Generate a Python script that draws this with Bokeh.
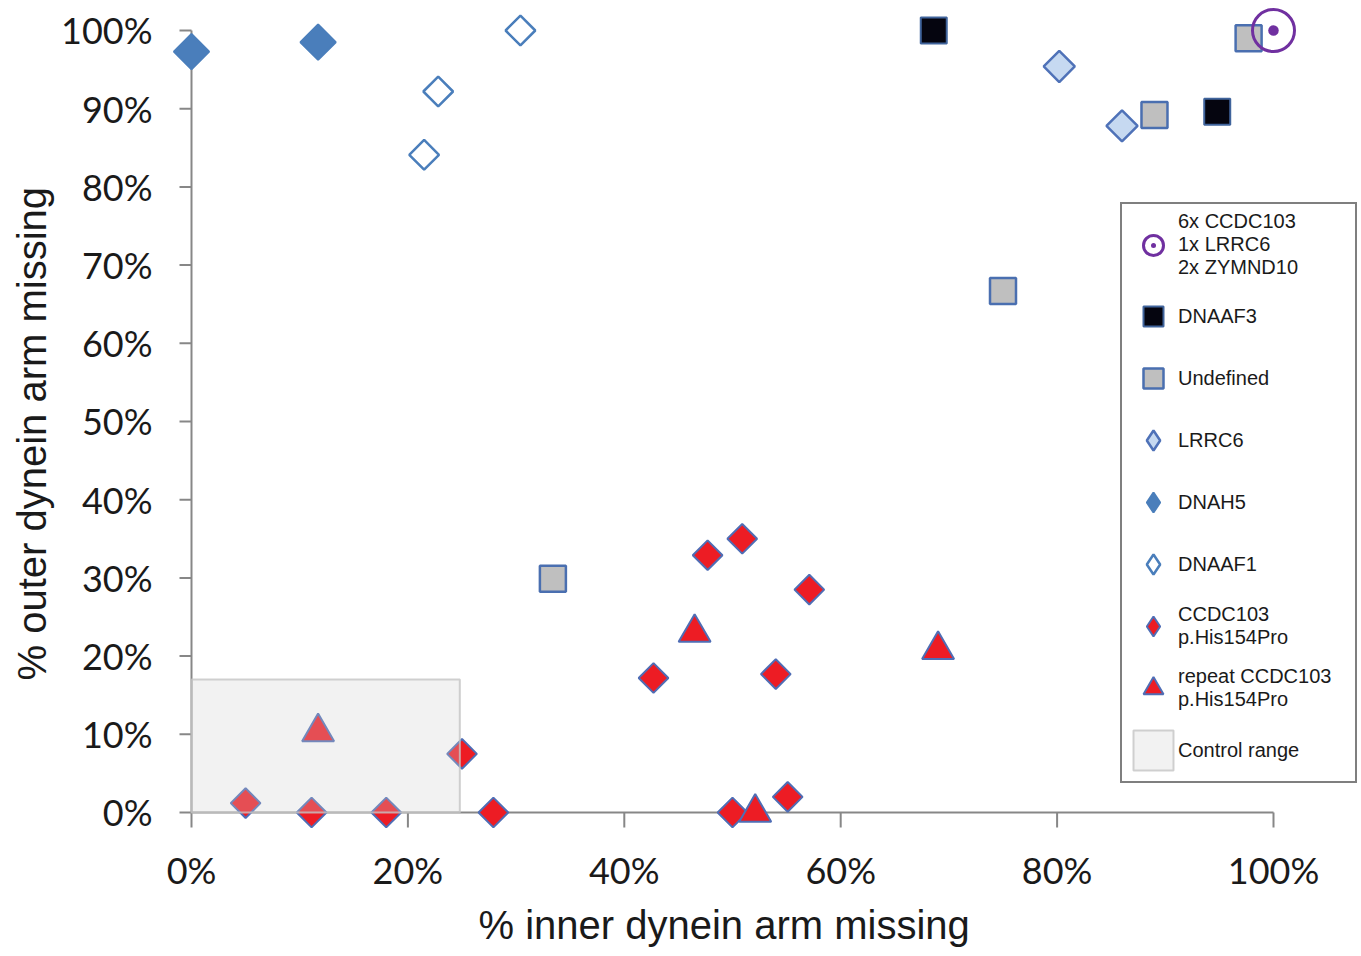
import numpy as np
from bokeh.plotting import figure
from bokeh.models import (Range1d, Legend, LegendItem, FixedTicker,
                          PrintfTickFormatter, Title)
from bokeh.embed import file_html
from bokeh.resources import INLINE

# ---------------- data ----------------
multi_x = [100.0]
multi_y = [100.0]

dnaaf3_x = [68.6, 94.8]
dnaaf3_y = [100.0, 89.6]

undef_x = [97.7, 89.0, 75.0, 33.4]
undef_y = [99.0, 89.2, 66.7, 29.9]

lrrc6_x = [80.2, 86.0]
lrrc6_y = [95.4, 87.8]

dnah5_x = [0.0, 11.7]
dnah5_y = [97.3, 98.5]

dnaaf1_x = [30.4, 22.8, 21.5]
dnaaf1_y = [100.0, 92.2, 84.1]

ccdc_x = [5.0, 11.1, 18.0, 25.0, 27.9, 42.7, 47.7, 50.9, 57.1, 54.0, 50.0, 55.1]
ccdc_y = [1.2, 0.0, 0.0, 7.5, 0.0, 17.2, 32.9, 35.0, 28.5, 17.7, 0.0, 2.0]

repeat_x = [11.7, 46.5, 69.0, 52.1]
repeat_y = [10.3, 23.0, 20.8, 0.0]

control_x = [0.0, 24.8]
control_y = [0.0, 17.0]

x_ticks = [0, 20, 40, 60, 80, 100]
y_ticks = [0, 10, 20, 30, 40, 50, 60, 70, 80, 90, 100]

x_title = "% inner dynein arm missing"
y_title = "% outer dynein arm missing"

# ---------------- figure ----------------
W, H = 1358, 954
p = figure(width=W, height=H, output_backend="svg", toolbar_location=None,
           x_range=Range1d(-1.756, 107.856), y_range=Range1d(-2.558, 103.836),
           min_border_left=172, min_border_right=0, min_border_top=0,
           min_border_bottom=122)
p.outline_line_color = None
p.grid.visible = False
p.background_fill_color = "white"

axis_col = "#878787"
text_col = "#1a1a1a"

# axes: tick labels (lines / ticks are drawn at the zero lines below)
for ax in (p.xaxis[0], p.yaxis[0]):
    ax.axis_line_color = None
    ax.major_tick_line_color = None
    ax.minor_tick_line_color = None
    ax.major_tick_in = 0
    ax.major_tick_out = 0
    ax.minor_tick_in = 0
    ax.minor_tick_out = 0
    ax.major_label_text_font = "Lato"
    ax.major_label_text_font_size = "36px"
    ax.major_label_text_color = text_col
    ax.formatter = PrintfTickFormatter(format="%d%%")

p.xaxis[0].ticker = FixedTicker(ticks=x_ticks)
p.yaxis[0].ticker = FixedTicker(ticks=y_ticks)
p.xaxis[0].major_label_standoff = 15
p.yaxis[0].major_label_standoff = 20

# axis titles
p.add_layout(Title(text=x_title, align="left", offset=306, standoff=12,
                   text_font="Liberation Sans", text_font_size="40px",
                   text_font_style="normal", text_color=text_col), "below")
p.add_layout(Title(text=y_title, align="left", offset=152, standoff=10,
                   text_font="Liberation Sans", text_font_size="40px",
                   text_font_style="normal", text_color=text_col), "left")

# axis lines through the origin, bounded to 0..100 %, with outward ticks
x_tick_len = 15 / 7.82      # 15 px expressed in y data units
y_tick_len = 12 / 10.82     # 12 px expressed in x data units
p.segment(x0=[0, 0], y0=[0, 0], x1=[x_ticks[-1], 0], y1=[0, y_ticks[-1]],
          line_color=axis_col, line_width=2)
p.segment(x0=x_ticks, y0=[0] * len(x_ticks), x1=x_ticks,
          y1=[-x_tick_len] * len(x_ticks), line_color=axis_col, line_width=2)
p.segment(x0=[0] * len(y_ticks), y0=y_ticks, x1=[-y_tick_len] * len(y_ticks),
          y1=y_ticks, line_color=axis_col, line_width=2)

ang = np.pi / 4
sty = {
    "dnah5": dict(fill_color="#4a7ebb", line_color="#4a7ebb", line_width=2),
    "dnaaf1": dict(fill_color="white", line_color="#4a7ebb", line_width=2.5),
    "lrrc6": dict(fill_color="#c6d9f1", line_color="#4f72b8", line_width=2.5),
    "ccdc": dict(fill_color="#ed1c24", line_color="#4f6db5", line_width=2),
}

r_dnah5 = p.scatter(dnah5_x, dnah5_y, marker="square", angle=ang, size=25, **sty["dnah5"])
r_dnaaf1 = p.scatter(dnaaf1_x, dnaaf1_y, marker="square", angle=ang, size=21, **sty["dnaaf1"])
r_lrrc6 = p.scatter(lrrc6_x, lrrc6_y, marker="square", angle=ang, size=22, **sty["lrrc6"])
r_dnaaf3 = p.scatter(dnaaf3_x, dnaaf3_y, marker="square", size=26,
                     fill_color="#05050f", line_color="#40649c", line_width=2)
r_undef = p.scatter(undef_x, undef_y, marker="square", size=26,
                    fill_color="#bfbfbf", line_color="#4a6fb0", line_width=2.5)
r_ccdc = p.scatter(ccdc_x, ccdc_y, marker="square", angle=ang, size=21, **sty["ccdc"])
r_repeat = p.scatter(repeat_x, repeat_y, marker="triangle", size=32,
                     fill_color="#ed1c24", line_color="#4f6db5", line_width=2)
r_multi = p.scatter(multi_x, multi_y, marker="circle_dot", size=42,
                    fill_color=None, line_color="#7030a0", line_width=3)
r_control = p.quad(left=[control_x[0]], right=[control_x[1]],
                   bottom=[control_y[0]], top=[control_y[1]],
                   fill_color="#d0d0d0", fill_alpha=0.28,
                   line_color="#c4c4c4", line_width=2, line_alpha=0.8)

# legend-only twins with a diamond marker (legend glyphs ignore the angle)
l_dnah5 = p.scatter(dnah5_x, dnah5_y, marker="diamond", visible=False, **sty["dnah5"])
l_dnaaf1 = p.scatter(dnaaf1_x, dnaaf1_y, marker="diamond", visible=False, **sty["dnaaf1"])
l_lrrc6 = p.scatter(lrrc6_x, lrrc6_y, marker="diamond", visible=False, **sty["lrrc6"])
l_ccdc = p.scatter(ccdc_x, ccdc_y, marker="diamond", visible=False, **sty["ccdc"])

legend = Legend(items=[
    LegendItem(label="6x CCDC103\n1x LRRC6\n2x ZYMND10", renderers=[r_multi]),
    LegendItem(label="DNAAF3", renderers=[r_dnaaf3]),
    LegendItem(label="Undefined", renderers=[r_undef]),
    LegendItem(label="LRRC6", renderers=[l_lrrc6]),
    LegendItem(label="DNAH5", renderers=[l_dnah5]),
    LegendItem(label="DNAAF1", renderers=[l_dnaaf1]),
    LegendItem(label="CCDC103\np.His154Pro", renderers=[l_ccdc]),
    LegendItem(label="repeat CCDC103\np.His154Pro", renderers=[r_repeat]),
    LegendItem(label="Control range", renderers=[r_control]),
], location=(948, 49))
legend.border_line_color = "black"
legend.border_line_width = 2
legend.background_fill_color = "white"
legend.background_fill_alpha = 1
legend.inactive_fill_alpha = 0
legend.label_text_font = "Liberation Sans"
legend.label_text_font_size = "20px"
legend.label_text_color = text_col
legend.glyph_width = 50
legend.glyph_height = 50
legend.label_height = 24
legend.label_width = 171
legend.spacing = 12
legend.padding = 6
legend.margin = 0
legend.label_standoff = 0
p.add_layout(legend)

open("out.html", "w").write(file_html(p, INLINE))
